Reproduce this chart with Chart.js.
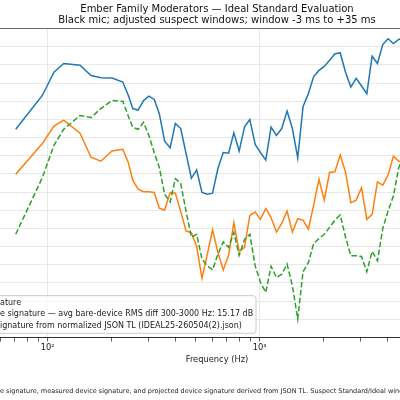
<!DOCTYPE html>
<html>
<head>
<meta charset="utf-8">
<script src="https://cdn.jsdelivr.net/npm/chart.js@4.4.1/dist/chart.umd.min.js"></script>
<style>
  html, body { margin: 0; padding: 0; background: #fff; }
  #frame { position: relative; width: 400px; height: 400px; overflow: hidden; }
  #wrap { position: absolute; left: -4px; top: 0; width: 442px; height: 400px; }
</style>
</head>
<body>
<div id="frame"><div id="wrap"><canvas id="grafico"></canvas></div></div>
<script>
// Frequencies (Hz) shared by the three curves
const freqs = [
  70.6, 94.3, 107, 119, 142, 160, 178, 201, 226, 240,
  252, 267, 283, 300, 318, 336, 356, 378, 400, 424,
  449, 476, 504, 534, 566, 599, 635, 673, 713, 755,
  800, 848, 898, 952, 1008, 1068, 1131, 1199, 1270, 1346,
  1426, 1511, 1601, 1696, 1797, 1903, 2016, 2136, 2263, 2398,
  2540, 2691, 2851, 3021, 3201, 3391, 3592, 3806, 4032, 4272,
  4526, 4795
];

// Levels (dB)
const bareSignature = [
  -27.7, -18.4, -12.0, -9.6, -10.1, -12.9, -13.5, -13.6, -14.7, -18.4,
  -22.0, -22.4, -19.8, -18.6, -19.5, -23.4, -31.0, -32.8, -26.1, -27.5,
  -34.3, -41.2, -38.9, -45.1, -45.6, -45.3, -38.5, -34.1, -34.3, -28.7,
  -33.7, -27.0, -25.0, -31.9, -34.1, -36.2, -27.1, -29.4, -27.5, -22.7,
  -27.5, -35.6, -21.5, -17.9, -13.2, -11.5, -10.4, -8.7, -6.9, -6.7,
  -12.0, -16.1, -13.7, -15.8, -17.9, -7.6, -9.6, -4.4, -2.8, -4.1,
  -3.0, -2.5
];
const measuredSignature = [
  -40.1, -31.6, -26.8, -25.2, -28.8, -35.4, -36.5, -33.7, -33.2, -36.9,
  -41.8, -44.2, -44.9, -44.9, -45.1, -49.4, -49.9, -45.1, -45.3, -50.3,
  -55.7, -56.2, -59.9, -68.7, -62.1, -55.4, -61.6, -66.4, -62.4, -53.4,
  -61.4, -60.2, -51.4, -50.5, -52.5, -49.5, -52.0, -56.0, -53.6, -50.2,
  -56.0, -52.3, -52.7, -55.2, -48.6, -41.5, -47.2, -39.6, -39.4, -34.8,
  -39.5, -47.9, -47.2, -43.8, -52.5, -51.1, -42.2, -43.1, -40.3, -35.1,
  -36.5, -36.8
];
const projectedSignature = [
  -56.6, -41.0, -32.1, -27.7, -23.9, -24.5, -22.0, -19.8, -20.0, -24.1,
  -27.2, -27.7, -25.8, -29.4, -34.1, -38.2, -45.6, -47.7, -41.3, -42.6,
  -50.2, -57.4, -56.6, -63.4, -65.3, -66.4, -62.1, -58.7, -60.2, -56.1,
  -62.4, -58.0, -56.6, -65.3, -69.8, -72.6, -65.4, -68.5, -67.6, -64.8,
  -70.8, -79.9, -66.9, -64.4, -59.1, -57.8, -56.6, -54.7, -52.7, -51.3,
  -57.4, -62.5, -62.5, -62.7, -66.9, -61.3, -63.9, -55.0, -50.2, -46.1,
  -38.3, -34.6
];

// Axis ticks
const tickValues = [60, 70, 80, 90, 100, 200, 300, 400, 500, 600, 700, 800, 900,
  1000, 2000, 3000, 4000, 5000, 6000];
const majorTicks = [100, 1000];
const majorLabels = ['10²', '10³'];

// Texts
const titleLines = [
  'Ember Family Moderators — Ideal Standard Evaluation',
  'Black mic; adjusted suspect windows; window -3 ms to +35 ms'
];
const legendLines = [
  'ature',
  'e signature — avg bare-device RMS diff 300-3000 Hz: 15.17 dB',
  'ignature from normalized JSON TL (IDEAL25-260504(2).json)'
];
const footerText = 'e signature, measured device signature, and projected device signature derived from JSON TL. Suspect Standard/Ideal windows';

const FONT = 'DejaVu Sans';

function pares(valores) {
  return freqs.map((f, i) => ({ x: f, y: valores[i] }));
}

// Legend box inside the plot (lower left), and caption under the figure
const legendBox = {
  id: 'legendBox',
  afterDatasetsDraw(chart) {
    const { ctx, chartArea } = chart;
    const left = chartArea.left - 20;
    const right = chartArea.left + 260;
    const bottom = chartArea.bottom - 4.2;
    const top = bottom - 37.6;
    ctx.save();
    ctx.beginPath();
    ctx.roundRect(left, top, right - left, bottom - top, 3);
    ctx.fillStyle = 'rgba(255,255,255,0.8)';
    ctx.fill();
    ctx.strokeStyle = '#cccccc';
    ctx.lineWidth = 1;
    ctx.stroke();
    ctx.fillStyle = '#222';
    ctx.font = `8px "${FONT}"`;
    ctx.textBaseline = 'middle';
    legendLines.forEach((t, i) => {
      ctx.fillText(t, chartArea.left + 4, top + 6.8 + i * 11.7);
    });
    ctx.restore();
  },
  afterDraw(chart) {
    const { ctx } = chart;
    ctx.save();
    ctx.fillStyle = '#222';
    ctx.font = `6.5px "${FONT}"`;
    ctx.textBaseline = 'middle';
    ctx.fillText(footerText, 4, 391);
    ctx.restore();
  }
};

const grafico = new Chart(document.getElementById('grafico'), {
  type: 'line',
  data: {
    datasets: [
      { label: legendLines[0], data: pares(bareSignature), borderColor: '#1f77b4', borderWidth: 1.5, order: 2 },
      { label: legendLines[1], data: pares(measuredSignature), borderColor: '#ff7f0e', borderWidth: 1.5, order: 1 },
      { label: legendLines[2], data: pares(projectedSignature), borderColor: '#2ca02c', borderWidth: 1.5, borderDash: [5.5, 2.5], order: 0 }
    ]
  },
  options: {
    responsive: true,
    maintainAspectRatio: false,
    animation: false,
    layout: { autoPadding: false, padding: { left: 0, right: 0, top: 0, bottom: 35.6 } },
    elements: { point: { radius: 0 }, line: { tension: 0 } },
    plugins: {
      legend: { display: false },
      tooltip: { enabled: false },
      title: {
        display: true,
        text: titleLines,
        color: '#111',
        font: { family: FONT, size: 10, weight: 'normal', lineHeight: 1.08 },
        padding: { top: 4, bottom: 3 }
      }
    },
    scales: {
      x: {
        type: 'logarithmic',
        min: 57.0,
        max: 6935,
        afterBuildTicks: scale => {
          scale.ticks = tickValues.map(v => ({ value: v, major: majorTicks.includes(v) }));
        },
        ticks: {
          autoSkip: false,
          maxRotation: 0,
          padding: 1,
          color: '#222',
          font: { family: FONT, size: 8.3 },
          callback: v => {
            const i = majorTicks.indexOf(v);
            return i >= 0 ? majorLabels[i] : '';
          }
        },
        grid: {
          color: c => (c.tick && majorTicks.includes(c.tick.value)) ? '#e2e2e2' : 'rgba(0,0,0,0)',
          tickColor: '#333',
          tickLength: 4,
          lineWidth: 0.8
        },
        border: { display: true, color: '#333', width: 1 },
        title: {
          display: true,
          text: 'Frequency (Hz)',
          color: '#222',
          font: { family: FONT, size: 8.3 },
          padding: { top: 1, bottom: 0 }
        }
      },
      y: {
        min: -85,
        max: 0,
        ticks: { display: false, stepSize: 5 },
        grid: {
          color: c => (c.tick && c.tick.value === 0) ? '#444' : '#e2e2e2',
          drawTicks: false,
          lineWidth: 0.8
        },
        border: { display: false }
      }
    }
  },
  plugins: [legendBox]
});
</script>
</body>
</html>
